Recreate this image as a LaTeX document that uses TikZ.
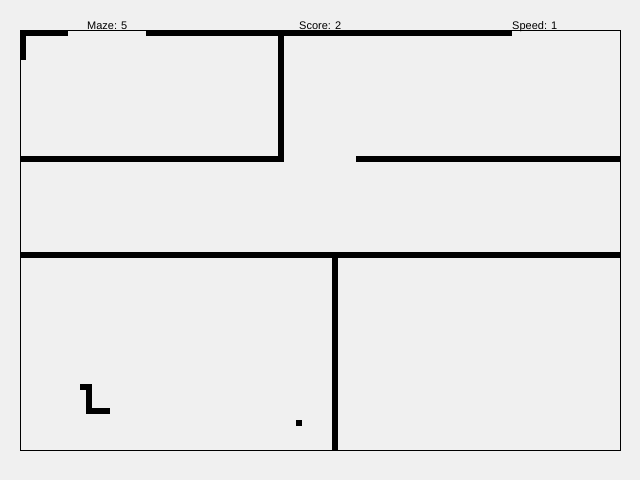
\documentclass[tikz,border=0pt]{standalone}
\usepackage{fontspec}
\setmainfont{Liberation Sans}
\definecolor{bg}{HTML}{F0F0F0}
\begin{document}
\begin{tikzpicture}[x=1pt,y=-1pt,
  wall/.style={fill=black},
  label/.style={anchor=base west,inner sep=0pt,font=\fontsize{11}{13}\selectfont}]
\useasboundingbox (0,0) rectangle (640,480);
\fill[bg] (0,0) rectangle (640,480);
% border
\draw[line width=1pt] (20.5,30.5) rectangle (620.5,450.5);
% walls
\fill[wall] (20,30) rectangle (68,36);
\fill[wall] (20,30) rectangle (26,60);
\fill[wall] (146,30) rectangle (512,36);
\fill[wall] (278,30) rectangle (284,162);
\fill[wall] (20,156) rectangle (284,162);
\fill[wall] (356,156) rectangle (620,162);
\fill[wall] (20,252) rectangle (620,258);
\fill[wall] (332,252) rectangle (338,450);
% snake
\fill[wall] (80,384) rectangle (92,390);
\fill[wall] (86,384) rectangle (92,414);
\fill[wall] (86,408) rectangle (110,414);
% food
\fill[wall] (296,420) rectangle (302,426);
% labels
\node[label] (maze) at (87,29) {Maze: 5};
\node[label] (score) at (299,29) {Score: 2};
\node[label] (speed) at (512,29) {Speed: 1};
\end{tikzpicture}
\end{document}
